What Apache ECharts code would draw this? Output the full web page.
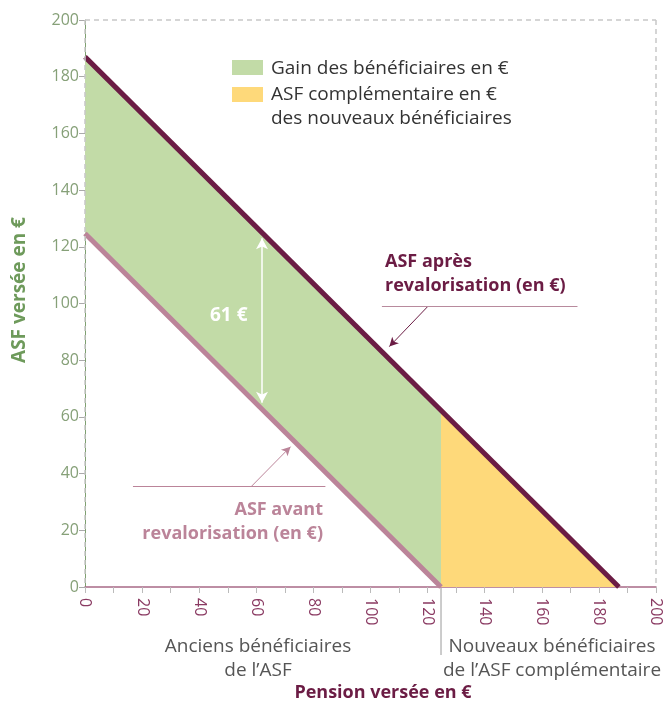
<!DOCTYPE html>
<html>
<head>
<meta charset="utf-8">
<script src="https://cdn.jsdelivr.net/npm/echarts@6/dist/echarts.min.js"></script>
<style>
  html, body { margin: 0; padding: 0; background: #fff; }
  #chart { width: 668px; height: 702px; }
</style>
</head>
<body>
<div id="chart"></div>
<script>
// valeurs
const xTicks = [0, 20, 40, 60, 80, 100, 120, 140, 160, 180, 200]
const yTicks = [0, 20, 40, 60, 80, 100, 120, 140, 160, 180, 200]
const apresX = [0, 187]      // ASF après revalorisation
const apresY = [187, 0]
const avantX = [0, 124.7]    // ASF avant revalorisation
const avantY = [124.7, 0]
const seuil = 124.7          // limite anciens / nouveaux bénéficiaires
const apresAuSeuil = 62.3
const ecart = [62, 123, 65]  // flèche 61 € : x, y haut, y bas

const font = '"Open Sans", "DejaVu Sans", sans-serif'
const maroon = '#6b1c44'
const rose = '#bb8499'
const vert = '#c2dba7'
const jaune = '#fed97a'

const chart = echarts.init(document.getElementById('chart'))

function pts(xs, ys) {
    return xs.map((x, i) => [x, ys[i]])
}
// polygones des zones
const gainPoly = [[apresX[0], apresY[0]], [seuil, apresAuSeuil], [seuil, 0], [avantX[1], avantY[1]], [avantX[0], avantY[0]]]
const complPoly = [[seuil, apresAuSeuil], [apresX[1], apresY[1]], [seuil, 0]]

function polySeries(name, poly, color) {
    return {
        type: 'custom',
        name: name,
        data: [0],
        silent: true,
        z: 1,
        renderItem: function (params, api) {
            return {
                type: 'polygon',
                shape: { points: poly.map(p => api.coord(p)) },
                style: { fill: color }
            }
        }
    }
}

const option = {
    animation: false,
    textStyle: { fontFamily: font },
    grid: { left: 85, right: 12, top: 20, bottom: 115 },
    xAxis: {
        type: 'value', min: 0, max: 200, interval: 20,
        axisLine: { show: true, lineStyle: { color: '#a86a86', width: 1.5 } },
        axisTick: { show: true, length: 6, lineStyle: { color: '#bbb' } },
        minorTick: { show: true, splitNumber: 2, length: 6, lineStyle: { color: '#bbb' } },
        splitLine: { show: false },
        axisLabel: {
            color: '#8a3a62', fontSize: 16, rotate: -90, margin: 11, fontFamily: font,
            formatter: v => xTicks.includes(v) ? String(v) : ''
        }
    },
    yAxis: {
        type: 'value', min: 0, max: 200, interval: 20,
        axisLine: { show: true, lineStyle: { color: '#7ea070', width: 1 } },
        axisTick: { show: true, length: 6, lineStyle: { color: '#aaa' } },
        splitLine: { show: false },
        axisLabel: {
            color: '#86a078', fontSize: 16, margin: 6, fontFamily: font,
            formatter: v => yTicks.includes(v) ? String(v) : ''
        }
    },
    series: [
        polySeries('Gain des bénéficiaires en €', gainPoly, vert),
        polySeries('ASF complémentaire en €', complPoly, jaune),
        {
            type: 'line', name: 'bordure', data: [], silent: true,
            markLine: {
                silent: true, symbol: ['none', 'none'], label: { show: false },
                lineStyle: { color: '#c8c8c8', type: [5, 4], width: 1.5 },
                data: [
                    [{ coord: [0, 200] }, { coord: [200, 200] }],
                    [{ coord: [200, 200] }, { coord: [200, 0] }],
                    [{ coord: [0, 200] }, { coord: [0, 0] }]
                ]
            }
        },
        {
            type: 'line', name: 'ASF avant revalorisation', data: pts(avantX, avantY),
            showSymbol: false, clip: false, z: 3,
            lineStyle: { color: rose, width: 5 },
            markLine: {
                silent: true, symbol: ['none', 'arrow'], symbolSize: [7, 9],
                label: { show: false },
                lineStyle: { color: rose, type: 'solid', width: 1 },
                data: [
                    [{ coord: [58.4, 35.6] }, { coord: [72, 49.5] }],
                    [{ coord: [16.8, 35.6], symbol: 'none' }, { coord: [84.2, 35.6], symbol: 'none' }]
                ]
            }
        },
        {
            type: 'line', name: 'ASF après revalorisation', data: pts(apresX, apresY),
            showSymbol: false, clip: false, z: 4,
            lineStyle: { color: maroon, width: 5 },
            markLine: {
                silent: true, symbol: ['none', 'arrow'], symbolSize: [7, 9],
                label: { show: false },
                lineStyle: { color: maroon, type: 'solid', width: 1 },
                data: [
                    [{ coord: [120.2, 99.1] }, { coord: [106.6, 84.8] }],
                    [{ coord: [104, 99.1], symbol: 'none', lineStyle: { color: '#b88a9d' } }, { coord: [172.5, 99.1], symbol: 'none' }]
                ]
            }
        },
        {
            type: 'line', name: 'ecart', data: [], silent: true, z: 5,
            markLine: {
                silent: true, symbol: ['arrow', 'arrow'], symbolSize: [9, 11],
                label: { show: false },
                lineStyle: { color: '#fff', type: 'solid', width: 1.5 },
                data: [[{ coord: [ecart[0], ecart[1]] }, { coord: [ecart[0], ecart[2]] }]]
            }
        }
    ]
}
chart.setOption(option)

// séparation anciens / nouveaux sous l'axe
const sx = chart.convertToPixel({ gridIndex: 0 }, [seuil, 0])
const txtDark = '#555'
function txt(x, y, text, fill, f, align, extra) {
    return Object.assign({
        type: 'text', x: x, y: y, z: 100,
        style: { text: text, fill: fill, font: f, align: align || 'left', verticalAlign: 'top', lineHeight: 24 }
    }, extra || {})
}
chart.setOption({
    graphic: [
        { type: 'line', z: 100, shape: { x1: sx[0], y1: sx[1] + 1, x2: sx[0], y2: sx[1] + 68 }, style: { stroke: '#bbb', lineWidth: 1.5 } },
        // légende
        { type: 'rect', z: 100, shape: { x: 232, y: 60, width: 31, height: 15 }, style: { fill: vert } },
        { type: 'rect', z: 100, shape: { x: 232, y: 87, width: 31, height: 15 }, style: { fill: jaune } },
        txt(271, 57, 'Gain des bénéficiaires en €', '#333', '19px ' + font),
        txt(271, 83, 'ASF complémentaire en €\ndes nouveaux bénéficiaires', '#333', '19px ' + font),
        // annotations
        txt(385, 250, 'ASF après\nrevalorisation (en €)', maroon, 'bold 18px ' + font, 'left', {}),
        txt(323, 498, 'ASF avant\nrevalorisation (en €)', rose, 'bold 18px ' + font, 'right'),
        txt(210, 304, '61 €', '#fff', 'bold 19px ' + font),
        txt(258, 635, 'Anciens bénéficiaires\nde l\u2019ASF', txtDark, '19px ' + font, 'center'),
        txt(552, 635, 'Nouveaux bénéficiaires\nde l\u2019ASF complémentaire', txtDark, '19px ' + font, 'center'),
        txt(383, 681, 'Pension versée en €', maroon, 'bold 18px ' + font, 'center'),
        {
            type: 'text', x: 20, y: 290, z: 100, rotation: Math.PI / 2,
            style: { text: 'ASF versée en €', fill: '#6e9a5b', font: 'bold 19px ' + font, align: 'center', verticalAlign: 'middle' }
        }
    ]
})
</script>
</body>
</html>
